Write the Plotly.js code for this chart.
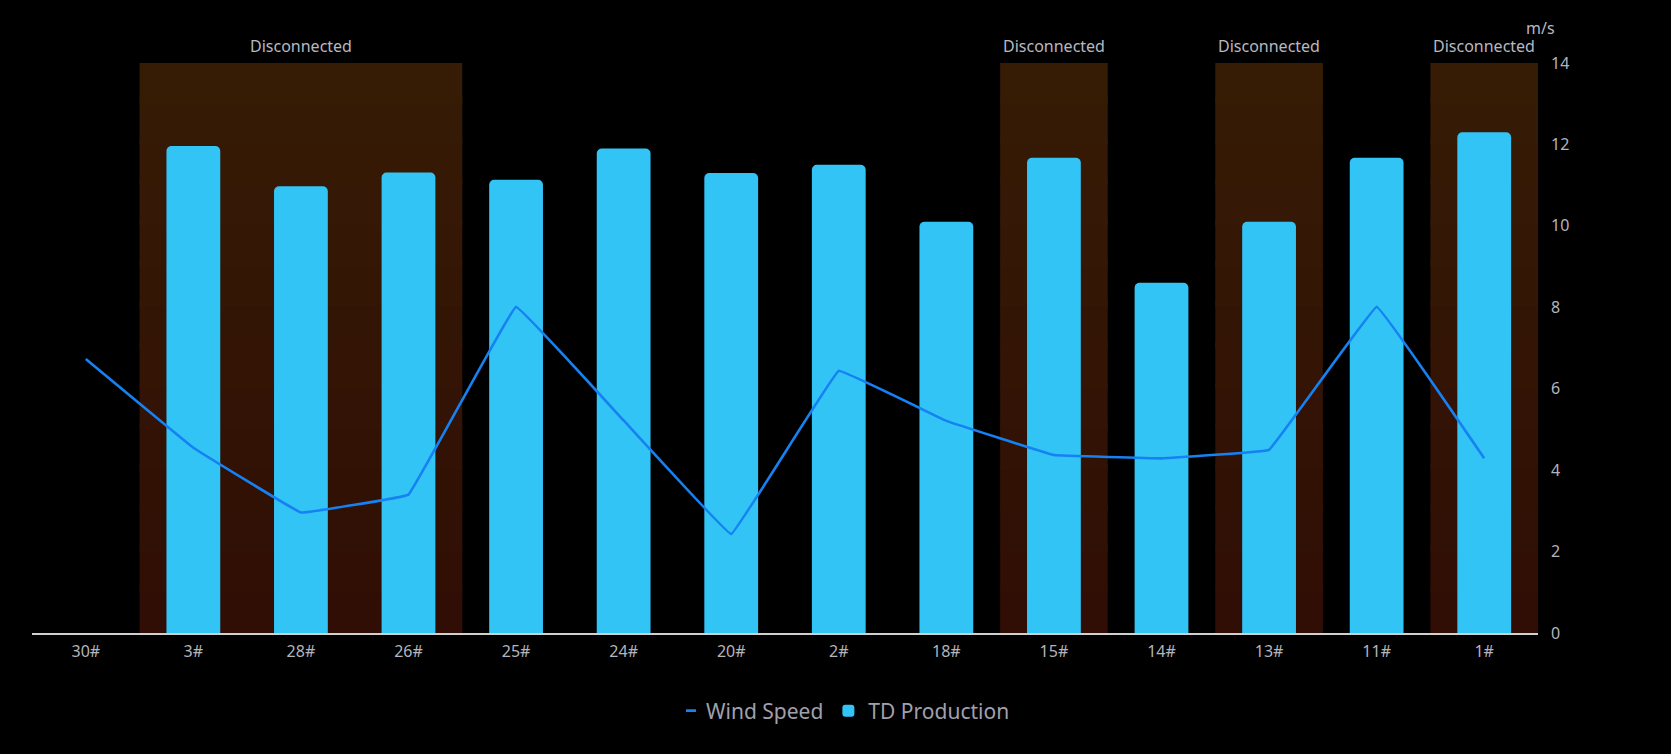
<!DOCTYPE html>
<html>
<head>
<meta charset="utf-8">
<script src="https://cdn.plot.ly/plotly-3.0.1.min.js"></script>
<style>
html,body{margin:0;padding:0;background:#000;}
#chart{width:1671px;height:754px;}
</style>
</head>
<body>
<div id="chart"></div>
<script>
const categories = ["30#","3#","28#","26#","25#","24#","20#","2#","18#","15#","14#","13#","11#","1#"];
const windSpeed = [6.73, 4.55, 2.96, 3.40, 8.01, 5.22, 2.43, 6.44, 5.21, 4.37, 4.29, 4.50, 8.01, 4.29];
const tdProduction = [null, 11.96, 10.97, 11.31, 11.13, 11.9, 11.3, 11.5, 10.1, 11.67, 8.6, 10.1, 11.67, 12.3];
// disconnected ranges: [first category, last category]
const disconnectedRanges = [["3#","26#"],["15#","15#"],["13#","13#"],["1#","1#"]];
const disconnectedLabel = "Disconnected";

const FONT = 'Noto Sans, Open Sans, sans-serif';
const shapes = [];
const annotations = [];
const nSlices = 14;
function lerp(a,b,t){return Math.round(a+(b-a)*t);}
disconnectedRanges.forEach(function(r){
  const i0 = categories.indexOf(r[0]);
  const i1 = categories.indexOf(r[1]);
  for (let s=0; s<nSlices; s++){
    const t = (s+0.5)/nSlices; // 0 bottom -> 1 top
    const c = 'rgb(' + lerp(0x30,0x36,t) + ',' + lerp(0x0e,0x1b,t) + ',' + lerp(0x05,0x05,t) + ')';
    shapes.push({type:'rect', xref:'x', yref:'y', layer:'below',
      x0:i0-0.5, x1:i1+0.5, y0:14*s/nSlices, y1:Math.min(14, 14*(s+1)/nSlices + 0.15),
      fillcolor:c, line:{width:0}});
  }
  annotations.push({xref:'x', yref:'paper', x:(i0+i1)/2, y:1, yshift:4, yanchor:'bottom',
    text:disconnectedLabel, showarrow:false, font:{size:16, color:'#b8b8c0', family:FONT}});
});
annotations.push({xref:'paper', yref:'paper', x:1, y:1, xshift:2, yshift:22, xanchor:'center', yanchor:'bottom',
  text:'m/s', showarrow:false, font:{size:16, color:'#b8b8c0', family:FONT}});

const xIdx = categories.map(function(_,i){return i;});

const traces = [
  {type:'scatter', mode:'lines', name:'Wind Speed', x:xIdx, y:windSpeed,
   line:{color:'#1681f2', width:2.6, shape:'spline', smoothing:0.12}, yaxis:'y'},
  {type:'bar', name:'TD Production', x:xIdx, y:tdProduction,
   marker:{color:'#33c4f6', cornerradius:5, line:{width:0}}, yaxis:'y'}
];

const layout = {
  width:1671, height:754,
  paper_bgcolor:'#000', plot_bgcolor:'#000',
  margin:{l:32, r:133, t:63, b:121},
  bargap:0.5,
  showlegend:true,
  legend:{orientation:'h', xref:'container', x:0.503, xanchor:'center', yref:'container', y:0.057, yanchor:'middle',
    font:{size:21, color:'#a0a0ac', family:FONT}, traceorder:'normal', itemwidth:30},
  xaxis:{range:[-0.5,13.5], tickmode:'array', tickvals:xIdx, ticktext:categories,
    showgrid:false, zeroline:false, showline:true, linecolor:'#d0d0d0', linewidth:2,
    ticks:'', tickfont:{size:16, color:'#b4b4bc', family:FONT}, ticklabelstandoff:3, fixedrange:true},
  yaxis:{side:'right', range:[0,14], dtick:2, showgrid:false, zeroline:false, showline:false,
    ticks:'', tickfont:{size:16, color:'#b4b4bc', family:FONT}, ticklabelstandoff:12},
  shapes:shapes,
  annotations:annotations
};

Plotly.newPlot('chart', traces, layout, {displayModeBar:false, staticPlot:true}).then(function(){
  document.querySelectorAll('.legendlines path').forEach(function(p){
    p.setAttribute('d','M20,0h10');
  });
});
</script>
</body>
</html>
